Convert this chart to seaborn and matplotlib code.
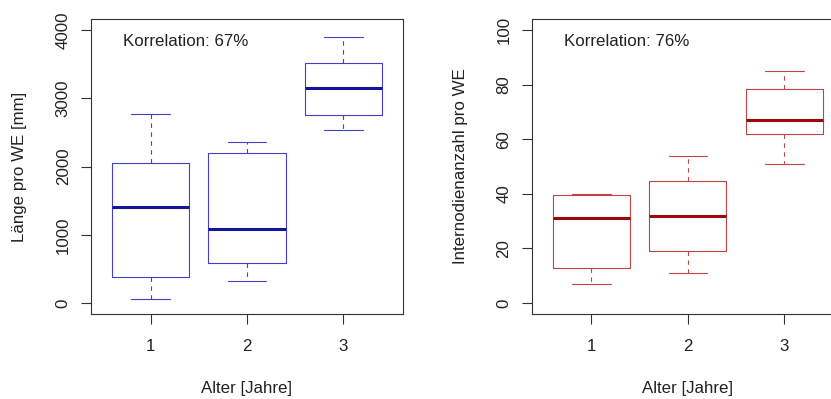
import matplotlib
matplotlib.use("Agg")
import matplotlib.pyplot as plt
import seaborn as sns
import pandas as pd

# ---- data (five-number summaries) ----
ages = ["1", "2", "3"]
laenge_1 = [54, 377, 1400, 2053, 2772]
laenge_2 = [318, 587, 1091, 2200, 2356]
laenge_3 = [2528, 2748, 3148, 3519, 3900]
intern_1 = [7, 13, 31, 39.4, 40]
intern_2 = [11, 19, 32, 44.7, 54]
intern_3 = [51, 62, 67, 78.4, 85]
korr_laenge = "Korrelation: 67%"
korr_intern = "Korrelation: 76%"
xlabel = "Alter [Jahre]"
ylabel_left = "Länge pro WE [mm]"
ylabel_right = "Internodienanzahl pro WE"
yticks_left = [0, 1000, 2000, 3000, 4000]
yticks_right = [0, 20, 40, 60, 80, 100]

df_l = pd.DataFrame({"Alter": [a for a, v in zip(ages, [laenge_1, laenge_2, laenge_3]) for _ in v],
                     "Wert": laenge_1 + laenge_2 + laenge_3})
df_r = pd.DataFrame({"Alter": [a for a, v in zip(ages, [intern_1, intern_2, intern_3]) for _ in v],
                     "Wert": intern_1 + intern_2 + intern_3})

sns.set_style("white")
plt.rcParams["font.family"] = ["Liberation Sans", "DejaVu Sans"]
FS = 12.2

fig = plt.figure(figsize=(8.31, 3.99), dpi=100)
ax1 = fig.add_axes([91 / 831, 1 - 314 / 399, 312 / 831, 295 / 399])
ax2 = fig.add_axes([531.7 / 831, 1 - 314 / 399, 312.3 / 831, 295 / 399])


def draw(ax, df, c_box, c_med, yticks, ylim, ylab, txt):
    lw = 0.8
    sns.boxplot(data=df, x="Alter", y="Wert", ax=ax, order=ages, fill=False,
                color=c_box, saturation=1, width=0.8, whis=1.5, showfliers=False,
                linewidth=lw,
                boxprops=dict(color=c_box, linewidth=lw),
                whiskerprops=dict(color=c_box, linewidth=lw, linestyle=(0, (4, 4))),
                capprops=dict(color=c_box, linewidth=lw),
                medianprops=dict(color=c_med, linewidth=2.2))
    ax.set_xlim(-0.62, 2.62)
    ax.set_ylim(*ylim)
    ax.set_yticks(yticks)
    ax.set_yticklabels([str(t) for t in yticks], rotation=90, va="center", fontsize=FS)
    ax.set_xticks(range(len(ages)))
    ax.set_xticklabels(ages, fontsize=FS)
    ax.tick_params(axis="both", direction="out", length=7.5, width=0.8, color="#333333",
                   labelcolor="#222222", left=True, bottom=True)
    ax.tick_params(axis="y", pad=7)
    ax.tick_params(axis="x", pad=10.5)
    for s in ax.spines.values():
        s.set_visible(True)
        s.set_color("#333333")
        s.set_linewidth(0.8)
    ax.set_xlabel(xlabel, fontsize=FS, color="#222222")
    ax.set_ylabel(ylab, fontsize=FS, color="#222222")
    ax.xaxis.set_label_coords(0.5, (314 - 388.5) / 295)
    ax.xaxis.label.set_va("center")
    ax.text(0.103, 0.925, txt, transform=ax.transAxes, ha="left", va="center",
            fontsize=FS, color="#222222")


draw(ax1, df_l, "#4040c8", "#15159a", yticks_left, (-160, 4160), ylabel_left, korr_laenge)
ax1.yaxis.set_label_coords((20 - 91) / 312, 0.5)
ax1.yaxis.label.set_va("center")
draw(ax2, df_r, "#c04444", "#9a0a0a", yticks_right, (-4, 104), ylabel_right, korr_intern)
ax2.yaxis.set_label_coords((460 - 531.7) / 312.3, 0.5)
ax2.yaxis.label.set_va("center")

fig.savefig("out.png", dpi=100)
